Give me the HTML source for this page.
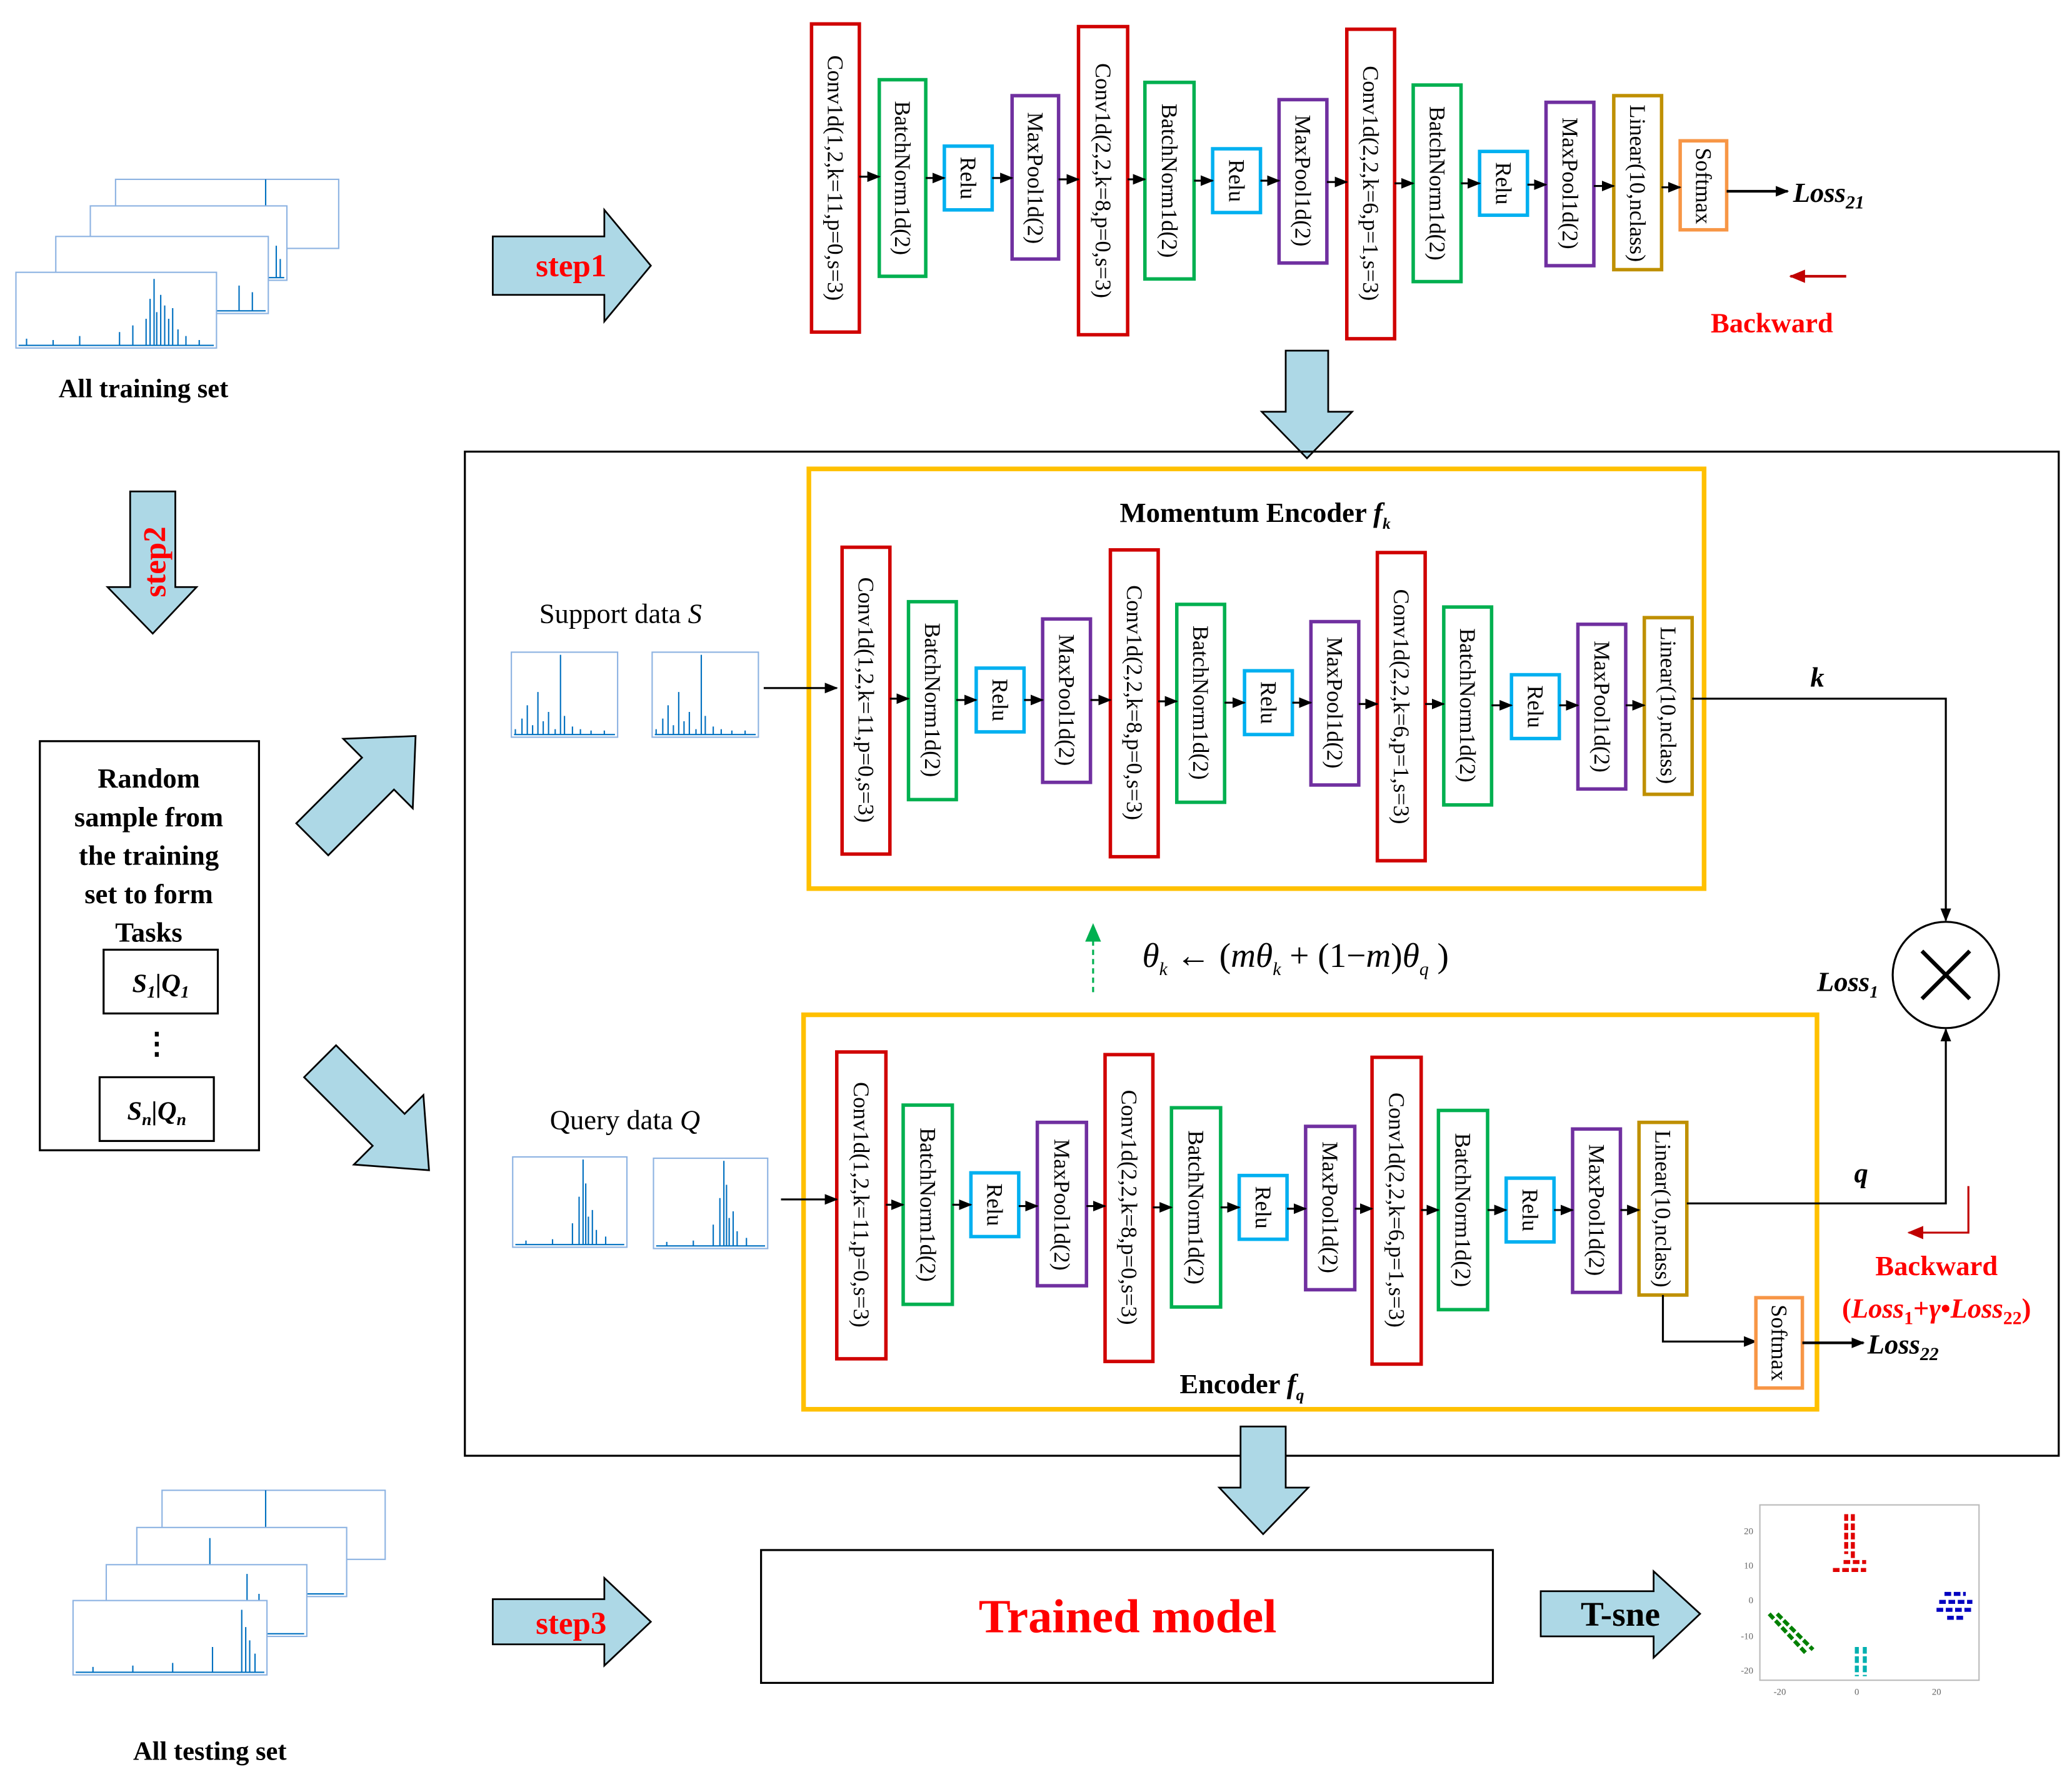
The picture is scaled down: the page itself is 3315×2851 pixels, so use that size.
<!DOCTYPE html>
<html><head><meta charset="utf-8"><style>
html,body{margin:0;padding:0;background:#fff;}
svg{display:block}
text{font-family:"Liberation Serif",serif;}
.r{fill:#fff;stroke:#d00000;stroke-width:2.6}
.g{fill:#fff;stroke:#00b050;stroke-width:2.6}
.b{fill:#fff;stroke:#00b0f0;stroke-width:2.6}
.p{fill:#fff;stroke:#7030a0;stroke-width:2.6}
.y{fill:#fff;stroke:#bf9000;stroke-width:2.6}
.o{fill:#fff;stroke:#f79646;stroke-width:2.6}
.t{font-size:17px;text-anchor:middle;dominant-baseline:central}
.ln{stroke:#000;stroke-width:1.5;fill:none}
.ba{fill:#add8e6;stroke:#000;stroke-width:1.3}
.pl{stroke:#0070c0;stroke-width:1;fill:none}
.fr{fill:#fff;stroke:#8db3e2;stroke-width:1}
</style></head><body>
<svg width="3315" height="2851" viewBox="0 0 1560 1341.6" xmlns="http://www.w3.org/2000/svg">
<defs>
<marker id="a" markerWidth="10" markerHeight="10" refX="9" refY="5" orient="auto" markerUnits="userSpaceOnUse"><path d="M0,1 L10,5 L0,9 z" fill="#000"/></marker>
<marker id="ar" markerWidth="12" markerHeight="12" refX="11" refY="6" orient="auto" markerUnits="userSpaceOnUse"><path d="M0,1 L12,6 L0,11 z" fill="#c00000"/></marker>
<marker id="ag" markerWidth="14" markerHeight="14" refX="12" refY="7" orient="auto" markerUnits="userSpaceOnUse"><path d="M0,1 L14,7 L0,13 z" fill="#00b050"/></marker>
<g id="plotA"><rect class="fr" x="0" y="0" width="80" height="64"/><path class="pl" d="M3,62 V58 M8,62 V50 M12,62 V40 M16,62 V55 M20,62 V30 M24,62 V52 M28,62 V45 M33,62 V58 M37,62 V2 M40,62 V48 M46,62 V56 M52,62 V58 M60,62 V59 M70,62 V59 M2,62 H78"/></g>
<g id="plotB"><rect class="fr" x="0" y="0" width="86" height="68"/><path class="pl" d="M2,66 H84 M10,66 V63 M30,66 V62 M45,66 V50 M50,66 V30 M53,66 V2 M55,66 V20 M57,66 V45 M60,66 V40 M63,66 V55 M70,66 V60"/></g>
</defs>

<!-- ===== Top row ===== -->
<rect class="r" x="611" y="18" width="36" height="232"/><text class="t" transform="rotate(90 629 134)" x="629" y="134">Conv1d(1,2,k=11,p=0,s=3)</text>
<rect class="g" x="662" y="60" width="35" height="148"/><text class="t" transform="rotate(90 679.5 134)" x="679.5" y="134">BatchNorm1d(2)</text>
<rect class="b" x="711" y="110" width="36" height="48"/><text class="t" transform="rotate(90 729 134)" x="729" y="134">Relu</text>
<rect class="p" x="762" y="72" width="35" height="123"/><text class="t" transform="rotate(90 779.5 134)" x="779.5" y="134">MaxPool1d(2)</text>
<rect class="r" x="812" y="20" width="37" height="232"/><text class="t" transform="rotate(90 830.5 136)" x="830.5" y="136">Conv1d(2,2,k=8,p=0,s=3)</text>
<rect class="g" x="862" y="62" width="37" height="148"/><text class="t" transform="rotate(90 880.5 136)" x="880.5" y="136">BatchNorm1d(2)</text>
<rect class="b" x="913" y="112" width="36" height="48"/><text class="t" transform="rotate(90 931 136)" x="931" y="136">Relu</text>
<rect class="p" x="963" y="75" width="36" height="123"/><text class="t" transform="rotate(90 981 136)" x="981" y="136">MaxPool1d(2)</text>
<rect class="r" x="1014" y="22" width="36" height="233"/><text class="t" transform="rotate(90 1032 138)" x="1032" y="138">Conv1d(2,2,k=6,p=1,s=3)</text>
<rect class="g" x="1064" y="64" width="36" height="148"/><text class="t" transform="rotate(90 1082 138)" x="1082" y="138">BatchNorm1d(2)</text>
<rect class="b" x="1114" y="114" width="36" height="48"/><text class="t" transform="rotate(90 1132 138)" x="1132" y="138">Relu</text>
<rect class="p" x="1164" y="77" width="36" height="123"/><text class="t" transform="rotate(90 1182 138)" x="1182" y="138">MaxPool1d(2)</text>
<rect class="y" x="1215" y="72" width="36" height="131"/><text class="t" transform="rotate(90 1233 138)" x="1233" y="138">Linear(10,nclass)</text>
<rect class="o" x="1265" y="106" width="35" height="67"/><text class="t" transform="rotate(90 1282.5 140)" x="1282.5" y="140">Softmax</text>
<g class="ln">
<path marker-end="url(#a)" d="M647,133H662"/><path marker-end="url(#a)" d="M697,134H711"/><path marker-end="url(#a)" d="M747,134H762"/><path marker-end="url(#a)" d="M797,135H812"/><path marker-end="url(#a)" d="M849,135H862"/><path marker-end="url(#a)" d="M899,136H913"/><path marker-end="url(#a)" d="M949,136H963"/><path marker-end="url(#a)" d="M999,137H1014"/><path marker-end="url(#a)" d="M1050,138H1064"/><path marker-end="url(#a)" d="M1100,138H1114"/><path marker-end="url(#a)" d="M1150,139H1164"/><path marker-end="url(#a)" d="M1200,140H1215"/><path marker-end="url(#a)" d="M1251,141H1265"/>
</g>
<path stroke="#000" stroke-width="2" marker-end="url(#a)" d="M1300,144H1346"/>
<text x="1350" y="152" font-size="21" font-weight="bold" font-style="italic">Loss<tspan font-size="14" dy="5">21</tspan></text>
<path stroke="#c00000" stroke-width="2" marker-end="url(#ar)" d="M1390,208H1348"/>
<text x="1288" y="250" font-size="21" font-weight="bold" fill="#ff0000">Backward</text>

<polygon class="ba" points="371,178 455,178 455,158 490,200 455,242 455,222 371,222"/>
<text x="430" y="208" font-size="24" font-weight="bold" fill="#ff0000" text-anchor="middle">step1</text>
<polygon class="ba" points="968,264 1000,264 1000,310 1018,310 984,345 950,310 968,310"/>

<rect class="fr" x="87" y="135" width="168" height="52"/><path class="pl" d="M200,135V187"/>
<rect class="fr" x="68" y="155" width="148" height="56"/><path class="pl" d="M70,209H214 M208,209V185 M211,209V195"/>
<rect class="fr" x="42" y="178" width="160" height="58"/><path class="pl" d="M44,234H200 M180,234V215 M190,234V220"/>
<rect class="fr" x="12" y="205" width="151" height="57"/>
<path class="pl" d="M14,260H161 M20,260V255 M40,260V256 M60,260V253 M90,260V250 M100,260V245 M110,260V240 M113,260V225 M116,260V210 M118,260V235 M121,260V222 M124,260V230 M127,260V240 M130,260V232 M134,260V248 M140,260V253 M150,260V256"/>
<text x="108" y="299" font-size="20" font-weight="bold" text-anchor="middle">All training set</text>

<polygon class="ba" points="98,370 132,370 132,442 148,442 115,477 81,442 98,442"/>
<text transform="rotate(-90 117 423)" x="117" y="423" font-size="24" font-weight="bold" fill="#ff0000" text-anchor="middle" dominant-baseline="central">step2</text>

<rect x="30" y="558" width="165" height="308" fill="#fff" stroke="#000" stroke-width="1.5"/>
<g font-size="21" font-weight="bold" text-anchor="middle">
<text x="112" y="593">Random</text><text x="112" y="622">sample from</text><text x="112" y="651">the training</text><text x="112" y="680">set to form</text><text x="112" y="709">Tasks</text>
</g>
<rect x="78" y="715" width="86" height="48" fill="#fff" stroke="#000" stroke-width="1.5"/>
<text x="121" y="747" font-size="20" font-weight="bold" font-style="italic" text-anchor="middle">S<tspan font-size="13" dy="4">1</tspan><tspan dy="-4">|Q</tspan><tspan font-size="13" dy="4">1</tspan></text>
<text x="118" y="793" font-size="22" font-weight="bold" text-anchor="middle">⋮</text>
<rect x="75" y="811" width="86" height="48" fill="#fff" stroke="#000" stroke-width="1.5"/>
<text x="118" y="843" font-size="20" font-weight="bold" font-style="italic" text-anchor="middle">S<tspan font-size="13" dy="4">n</tspan><tspan dy="-4">|Q</tspan><tspan font-size="13" dy="4">n</tspan></text>

<g transform="translate(274,593) rotate(-45)"><polygon class="ba" points="-55,-17 15,-17 15,-37 55,0 15,37 15,17 -55,17"/></g>
<g transform="translate(282,840) rotate(45)"><polygon class="ba" points="-58,-17 15,-17 15,-37 58,0 15,37 15,17 -58,17"/></g>

<rect x="350" y="340" width="1200" height="756" fill="none" stroke="#000" stroke-width="1.5"/>

<rect x="609" y="353" width="674" height="316" fill="none" stroke="#ffc000" stroke-width="3.5"/>
<text x="945" y="393" font-size="21" font-weight="bold" text-anchor="middle">Momentum Encoder <tspan font-style="italic">f</tspan><tspan font-size="12" font-style="italic" dy="5">k</tspan></text>
<rect class="r" x="634" y="412" width="36" height="231"/><text class="t" transform="rotate(90 652 527)" x="652" y="527">Conv1d(1,2,k=11,p=0,s=3)</text>
<rect class="g" x="684" y="453" width="36" height="149"/><text class="t" transform="rotate(90 702 527)" x="702" y="527">BatchNorm1d(2)</text>
<rect class="b" x="735" y="503" width="36" height="48"/><text class="t" transform="rotate(90 753 527)" x="753" y="527">Relu</text>
<rect class="p" x="785" y="466" width="36" height="123"/><text class="t" transform="rotate(90 803 527)" x="803" y="527">MaxPool1d(2)</text>
<rect class="r" x="836" y="414" width="36" height="231"/><text class="t" transform="rotate(90 854 529)" x="854" y="529">Conv1d(2,2,k=8,p=0,s=3)</text>
<rect class="g" x="886" y="455" width="36" height="149"/><text class="t" transform="rotate(90 904 529)" x="904" y="529">BatchNorm1d(2)</text>
<rect class="b" x="937" y="505" width="36" height="48"/><text class="t" transform="rotate(90 955 529)" x="955" y="529">Relu</text>
<rect class="p" x="987" y="468" width="36" height="123"/><text class="t" transform="rotate(90 1005 529)" x="1005" y="529">MaxPool1d(2)</text>
<rect class="r" x="1037" y="416" width="36" height="232"/><text class="t" transform="rotate(90 1055 532)" x="1055" y="532">Conv1d(2,2,k=6,p=1,s=3)</text>
<rect class="g" x="1087" y="457" width="36" height="149"/><text class="t" transform="rotate(90 1105 531)" x="1105" y="531">BatchNorm1d(2)</text>
<rect class="b" x="1138" y="508" width="36" height="48"/><text class="t" transform="rotate(90 1156 532)" x="1156" y="532">Relu</text>
<rect class="p" x="1188" y="470" width="36" height="124"/><text class="t" transform="rotate(90 1206 532)" x="1206" y="532">MaxPool1d(2)</text>
<rect class="y" x="1238" y="465" width="36" height="133"/><text class="t" transform="rotate(90 1256 531)" x="1256" y="531">Linear(10,nclass)</text>
<g class="ln">
<path marker-end="url(#a)" d="M670,526H684"/><path marker-end="url(#a)" d="M720,527H735"/><path marker-end="url(#a)" d="M771,527H785"/><path marker-end="url(#a)" d="M821,527H836"/><path marker-end="url(#a)" d="M872,528H886"/><path marker-end="url(#a)" d="M922,529H937"/><path marker-end="url(#a)" d="M973,529H987"/><path marker-end="url(#a)" d="M1023,530H1037"/><path marker-end="url(#a)" d="M1073,530H1087"/><path marker-end="url(#a)" d="M1123,531H1138"/><path marker-end="url(#a)" d="M1174,531H1188"/><path marker-end="url(#a)" d="M1224,531H1238"/>
</g>
<text x="406" y="469" font-size="21">Support data <tspan font-style="italic">S</tspan></text>
<use href="#plotA" x="385" y="491"/><use href="#plotA" x="491" y="491"/>
<path class="ln" marker-end="url(#a)" d="M575,518H630"/>
<path class="ln" marker-end="url(#a)" d="M1274,526H1465V693"/>
<text x="1363" y="517" font-size="21" font-weight="bold" font-style="italic">k</text>
<circle cx="1465" cy="734" r="40" fill="#fff" stroke="#000" stroke-width="1.5"/>
<path stroke="#000" stroke-width="3" d="M1447,716L1483,752M1483,716L1447,752"/>
<text x="1368" y="746" font-size="21" font-weight="bold" font-style="italic">Loss<tspan font-size="13" dy="5">1</tspan></text>

<path stroke="#00b050" stroke-width="1.5" stroke-dasharray="4,3" marker-end="url(#ag)" d="M823,747V697"/>
<text x="860" y="728" font-size="26" font-style="italic">θ<tspan font-size="14" dy="6">k</tspan><tspan dy="-6" font-style="normal"> ← (</tspan>mθ<tspan font-size="14" dy="6">k</tspan><tspan dy="-6" font-style="normal"> +  (1−</tspan>m<tspan font-style="normal">)</tspan>θ<tspan font-size="14" dy="6">q</tspan><tspan dy="-6" font-style="normal"> )</tspan></text>

<rect x="605" y="764" width="763" height="297" fill="none" stroke="#ffc000" stroke-width="3.5"/>
<text x="935" y="1049" font-size="21" font-weight="bold" text-anchor="middle">Encoder <tspan font-style="italic">f</tspan><tspan font-size="12" font-style="italic" dy="5">q</tspan></text>
<rect class="r" x="630" y="792" width="37" height="231"/><text class="t" transform="rotate(90 648.5 907)" x="648.5" y="907">Conv1d(1,2,k=11,p=0,s=3)</text>
<rect class="g" x="680" y="832" width="37" height="150"/><text class="t" transform="rotate(90 698.5 907)" x="698.5" y="907">BatchNorm1d(2)</text>
<rect class="b" x="731" y="883" width="36" height="48"/><text class="t" transform="rotate(90 749 907)" x="749" y="907">Relu</text>
<rect class="p" x="781" y="845" width="37" height="123"/><text class="t" transform="rotate(90 799.5 907)" x="799.5" y="907">MaxPool1d(2)</text>
<rect class="r" x="832" y="794" width="36" height="231"/><text class="t" transform="rotate(90 850 909)" x="850" y="909">Conv1d(2,2,k=8,p=0,s=3)</text>
<rect class="g" x="882" y="834" width="37" height="150"/><text class="t" transform="rotate(90 900.5 909)" x="900.5" y="909">BatchNorm1d(2)</text>
<rect class="b" x="933" y="885" width="36" height="48"/><text class="t" transform="rotate(90 951 909)" x="951" y="909">Relu</text>
<rect class="p" x="983" y="848" width="37" height="123"/><text class="t" transform="rotate(90 1001.5 909)" x="1001.5" y="909">MaxPool1d(2)</text>
<rect class="r" x="1033" y="796" width="37" height="231"/><text class="t" transform="rotate(90 1051.5 911)" x="1051.5" y="911">Conv1d(2,2,k=6,p=1,s=3)</text>
<rect class="g" x="1083" y="836" width="37" height="150"/><text class="t" transform="rotate(90 1101.5 911)" x="1101.5" y="911">BatchNorm1d(2)</text>
<rect class="b" x="1134" y="887" width="36" height="48"/><text class="t" transform="rotate(90 1152 911)" x="1152" y="911">Relu</text>
<rect class="p" x="1184" y="850" width="36" height="123"/><text class="t" transform="rotate(90 1202 911)" x="1202" y="911">MaxPool1d(2)</text>
<rect class="y" x="1234" y="845" width="36" height="130"/><text class="t" transform="rotate(90 1252 910)" x="1252" y="910">Linear(10,nclass)</text>
<g class="ln">
<path marker-end="url(#a)" d="M667,907H680"/><path marker-end="url(#a)" d="M717,907H731"/><path marker-end="url(#a)" d="M767,908H781"/><path marker-end="url(#a)" d="M818,908H832"/><path marker-end="url(#a)" d="M868,909H882"/><path marker-end="url(#a)" d="M919,909H933"/><path marker-end="url(#a)" d="M969,910H983"/><path marker-end="url(#a)" d="M1020,910H1033"/><path marker-end="url(#a)" d="M1070,911H1083"/><path marker-end="url(#a)" d="M1120,911H1134"/><path marker-end="url(#a)" d="M1170,911H1184"/><path marker-end="url(#a)" d="M1220,911H1234"/>
</g>
<text x="414" y="850" font-size="21">Query data <tspan font-style="italic">Q</tspan></text>
<use href="#plotB" x="386" y="871"/><use href="#plotB" x="492" y="872"/>
<path class="ln" marker-end="url(#a)" d="M588,903H630"/>
<path class="ln" marker-end="url(#a)" d="M1270,906H1465V775"/>
<text x="1396" y="890" font-size="21" font-weight="bold" font-style="italic">q</text>
<path class="ln" marker-end="url(#a)" d="M1252,975V1010H1322"/>
<rect class="o" x="1322" y="977" width="35" height="68"/><text class="t" transform="rotate(90 1339.5 1011)" x="1339.5" y="1011">Softmax</text>
<path stroke="#000" stroke-width="2" marker-end="url(#a)" d="M1357,1011H1403"/>
<text x="1406" y="1019" font-size="21" font-weight="bold" font-style="italic">Loss<tspan font-size="14" dy="5">22</tspan></text>
<path stroke="#c00000" stroke-width="1.5" fill="none" marker-end="url(#ar)" d="M1482,893V928H1437"/>
<text x="1458" y="960" font-size="21" font-weight="bold" fill="#ff0000" text-anchor="middle">Backward</text>
<text x="1458" y="992" font-size="21" font-weight="bold" fill="#ff0000" text-anchor="middle">(<tspan font-style="italic">Loss</tspan><tspan font-size="14" dy="5">1</tspan><tspan dy="-5">+</tspan><tspan font-style="italic">γ</tspan>•<tspan font-style="italic">Loss</tspan><tspan font-size="14" dy="5">22</tspan><tspan dy="-5">)</tspan></text>

<polygon class="ba" points="934,1074 968,1074 968,1120 985,1120 951,1155 918,1120 934,1120"/>

<rect x="573" y="1167" width="551" height="100" fill="#fff" stroke="#000" stroke-width="1.5"/>
<text x="849" y="1229" font-size="36" font-weight="bold" fill="#ff0000" text-anchor="middle">Trained model</text>

<polygon class="ba" points="371,1204 455,1204 455,1188 490,1221 455,1254 455,1238 371,1238"/>
<text x="430" y="1230" font-size="24" font-weight="bold" fill="#ff0000" text-anchor="middle">step3</text>
<polygon class="ba" points="1160,1198 1245,1198 1245,1183 1280,1215 1245,1248 1245,1232 1160,1232"/>
<text x="1220" y="1224" font-size="26" font-weight="bold" text-anchor="middle">T-sne</text>

<rect class="fr" x="122" y="1122" width="168" height="52"/><path class="pl" d="M200,1122V1174"/>
<rect class="fr" x="103" y="1150" width="158" height="52"/><path class="pl" d="M158,1200V1158 M105,1200H259"/>
<rect class="fr" x="80" y="1178" width="151" height="54"/><path class="pl" d="M186,1230V1185 M195,1230V1200 M82,1230H229"/>
<rect class="fr" x="55" y="1205" width="146" height="56"/>
<path class="pl" d="M57,1259H199 M70,1259V1255 M100,1259V1254 M130,1259V1252 M160,1259V1240 M182,1259V1212 M185,1259V1225 M188,1259V1235 M192,1259V1245"/>
<text x="158" y="1325" font-size="20" font-weight="bold" text-anchor="middle">All testing set</text>

<rect x="1325" y="1133" width="165" height="132" fill="#fff" stroke="#bbb" stroke-width="1"/>
<g font-size="7" fill="#666" text-anchor="end"><text x="1320" y="1155">20</text><text x="1320" y="1181">10</text><text x="1320" y="1207">0</text><text x="1320" y="1234">-10</text><text x="1320" y="1260">-20</text></g>
<g font-size="7" fill="#666" text-anchor="middle"><text x="1340" y="1276">-20</text><text x="1398" y="1276">0</text><text x="1458" y="1276">20</text></g>
<path stroke="#e00000" stroke-width="3" stroke-dasharray="5,2" d="M1390,1140V1170 M1395,1140V1175 M1388,1176H1405 M1380,1182H1405"/>
<path stroke="#0000c0" stroke-width="3" stroke-dasharray="5,2" d="M1460,1206H1485 M1458,1212H1485 M1464,1200H1480 M1466,1218H1478"/>
<path stroke="#008000" stroke-width="3" stroke-dasharray="5,2" d="M1332,1215L1360,1245 M1338,1215L1365,1242"/>
<path stroke="#00b0b0" stroke-width="3" stroke-dasharray="5,2" d="M1398,1240V1262 M1404,1240V1262"/>
</svg>
</body></html>
